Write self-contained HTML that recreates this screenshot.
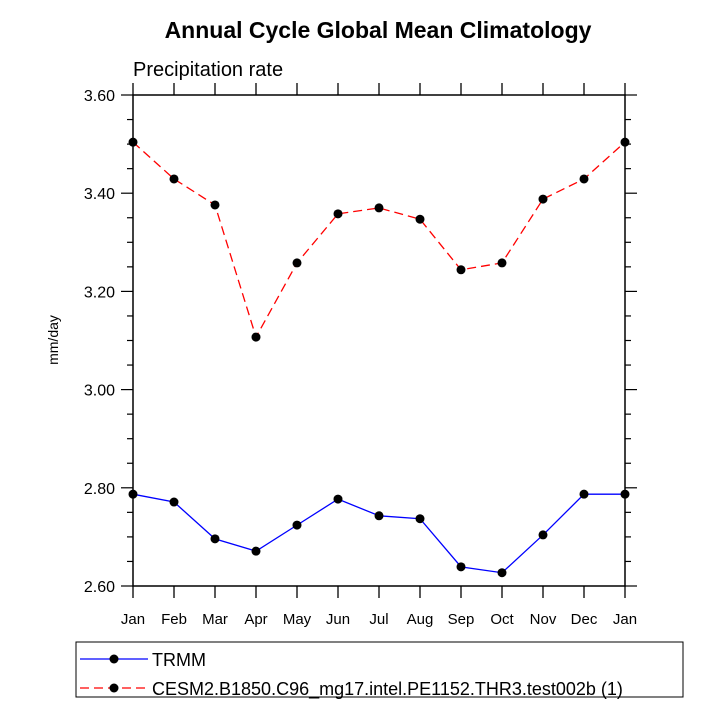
<!DOCTYPE html>
<html><head><meta charset="utf-8"><style>body{margin:0;background:#fff}svg{display:block;font-family:"Liberation Sans",Arial,sans-serif}</style></head>
<body>
<svg id="c" width="727" height="727">
<text x="378" y="38" text-anchor="middle" font-size="23" font-weight="bold">Annual Cycle Global Mean Climatology</text>
<text x="133" y="76" font-size="20">Precipitation rate</text>
<text transform="translate(58,340) rotate(-90)" text-anchor="middle" font-size="14">mm/day</text>
<rect x="133" y="95" width="492" height="491" fill="none" stroke="#000" stroke-width="1.5"/>
<g id="axes"></g><g id="series"></g>
<rect x="76" y="642" width="607" height="55" fill="none" stroke="#000"/>
<g><line x1="80" y1="659" x2="148" y2="659" stroke="#00f" stroke-width="1.3"/><circle cx="114" cy="659" r="4.5"/><text x="152" y="666" font-size="18">TRMM</text></g>
<g><line x1="80" y1="688" x2="148" y2="688" stroke="#f00" stroke-width="1.3" stroke-dasharray="9,5"/><circle cx="114" cy="688" r="4.5"/><text x="152" y="695" font-size="18">CESM2.B1850.C96_mg17.intel.PE1152.THR3.test002b (1)</text></g>
</svg>
<script>
const months=["Jan","Feb","Mar","Apr","May","Jun","Jul","Aug","Sep","Oct","Nov","Dec","Jan"];
const trmm=[2.787,2.771,2.696,2.671,2.724,2.777,2.743,2.737,2.639,2.627,2.704,2.787,2.787];
const cesm=[3.504,3.429,3.376,3.107,3.258,3.358,3.370,3.347,3.244,3.258,3.388,3.429,3.504];
const yTicks=[2.6,2.8,3.0,3.2,3.4,3.6];
const yLabels=["2.60","2.80","3.00","3.20","3.40","3.60"];
const NS="http://www.w3.org/2000/svg";
const X0=133,X1=625,Y0=586,Y1=95,YMIN=2.6,YMAX=3.6;
const xs=i=>X0+(X1-X0)*i/(months.length-1);
const ys=v=>Y0-(v-YMIN)/(YMAX-YMIN)*(Y0-Y1);
function mk(t,a,p){const e=document.createElementNS(NS,t);for(const k in a)e.setAttribute(k,a[k]);p.appendChild(e);return e;}
const ax=document.getElementById('axes');
months.forEach((m,i)=>{const x=xs(i);
 mk('line',{x1:x,x2:x,y1:Y0,y2:Y0+12,stroke:'#000','stroke-width':1.3},ax);
 mk('line',{x1:x,x2:x,y1:Y1,y2:Y1-12,stroke:'#000','stroke-width':1.3},ax);
 const t=mk('text',{x:x,y:624,'text-anchor':'middle','font-size':15},ax);t.textContent=m;
 
 
});
for(let v=YMIN;v<=YMAX+1e-9;v+=0.05){const y=ys(v);const maj=Math.abs(Math.round(v/0.2)*0.2-v)<1e-6;const L=maj?12:6;
 mk('line',{x1:X0-L,x2:X0,y1:y,y2:y,stroke:'#000','stroke-width':1.2},ax);
 mk('line',{x1:X1,x2:X1+L,y1:y,y2:y,stroke:'#000','stroke-width':1.2},ax);}
yTicks.forEach((v,i)=>{const t=mk('text',{x:115,y:ys(v)+6,'text-anchor':'end','font-size':16},ax);t.textContent=yLabels[i];
 
 });
const sg=document.getElementById('series');
function draw(data,color,dash,name){const g=mk('g',{},sg);
 
 
 const a={points:data.map((v,i)=>xs(i)+','+ys(v)).join(' '),fill:'none',stroke:color,'stroke-width':1.3};
 if(dash)a['stroke-dasharray']=dash;mk('polyline',a,g);
 data.forEach((v,i)=>{const c=mk('circle',{cx:xs(i),cy:ys(v),r:4.5,fill:'#000'},g);
 
 });}
draw(trmm,'#00f',null,'series-trmm');
draw(cesm,'#f00','9,5','series-cesm2');
</script>
</body></html>
